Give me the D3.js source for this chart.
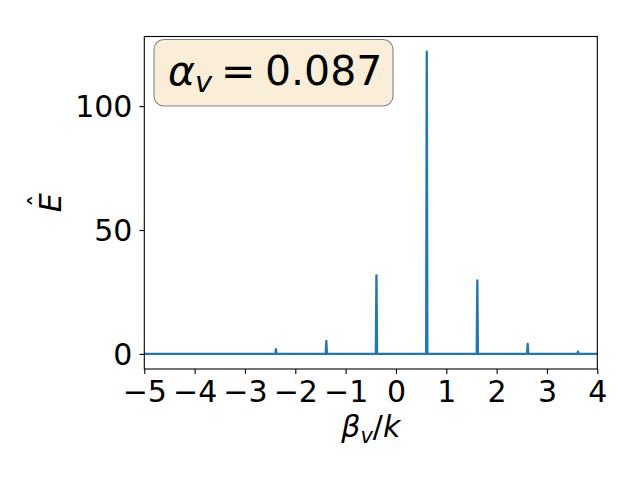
<!DOCTYPE html>
<html><head><meta charset="utf-8">
<script src="https://cdn.jsdelivr.net/npm/d3@7"></script>
<style>body{margin:0;background:#fff}svg{display:block}text{font-family:"DejaVu Sans",sans-serif;fill:#000}</style>
</head><body><div id="c"></div>
<script>
// Data
const xTicks = [-5, -4, -3, -2, -1, 0, 1, 2, 3, 4];
const yTicks = [0, 50, 100];
const seriesX = [-5.0, -2.397, -2.385, -2.373, -1.396, -1.384, -1.372, -0.400, -0.388, -0.376, 0.600, 0.612, 0.624, 1.604, 1.616, 1.628, 2.605, 2.617, 2.629, 3.605, 3.617, 3.629, 4.0];
const seriesY = [0, 0, 1.9, 0, 0, 5.2, 0, 0, 31.7, 0, 0, 122.0, 0, 0, 29.7, 0, 0, 4.0, 0, 0, 0.9, 0, 0];
const annotation = {greek: "α", sub: "v", eq: "=", value: "0.087"};

const W = 640, H = 480;
const L = 144.3, R = 597.3, T = 36.5, B = 369;
const svg = d3.select("#c").append("svg").attr("width", W).attr("height", H);
const x = d3.scaleLinear().domain([-5, 4]).range([L, R]);
const y = d3.scaleLinear().domain([-6.1, 128.1]).range([B, T]);

svg.append("clipPath").attr("id", "clip").append("rect")
  .attr("x", L).attr("y", T).attr("width", R - L).attr("height", B - T);

const pts = seriesX.map((v, i) => [v, seriesY[i]]);
svg.append("path").datum(pts)
  .attr("clip-path", "url(#clip)")
  .attr("fill", "none").attr("stroke", "#1f77b4").attr("stroke-width", 2.3)
  .attr("stroke-linejoin", "round")
  .attr("d", d3.line().x(d => x(d[0])).y(d => y(d[1])));

const fmt = d => (d < 0 ? "\u2212" + Math.abs(d) : String(d));
const xa = svg.append("g").attr("transform", `translate(0,${B})`)
  .call(d3.axisBottom(x).tickValues(xTicks).tickFormat(fmt).tickSize(4.9).tickPadding(5));
const ya = svg.append("g").attr("transform", `translate(${L},0)`)
  .call(d3.axisLeft(y).tickValues(yTicks).tickFormat(fmt).tickSize(4.9).tickPadding(7));
[xa, ya].forEach(a => {
  a.select(".domain").remove();
  a.selectAll("line").attr("stroke", "#000").attr("stroke-width", 1.1);
  a.selectAll("text").style("font-family", "DejaVu Sans").style("font-size", "30px").attr("fill", "#000");
});
xa.selectAll("text").attr("dy", "0.76em");
ya.selectAll("text").attr("dy", "0.36em");

svg.append("rect").attr("x", L).attr("y", T).attr("width", R - L).attr("height", B - T)
  .attr("fill", "none").attr("stroke", "#000").attr("stroke-width", 1.1);

// x label
const xl = svg.append("text").attr("x", (L + R) / 2).attr("y", 437).attr("text-anchor", "middle")
  .style("font-size", "30px");
xl.append("tspan").style("font-style", "italic").text("β");
xl.append("tspan").style("font-style", "italic").style("font-size", "21px").attr("dy", 6).text("v");
xl.append("tspan").attr("dy", -6).text("/");
xl.append("tspan").style("font-style", "italic").text("k");

// y label
const yl = svg.append("g").attr("transform", `translate(61,${(T + B) / 2}) rotate(-90)`);
yl.append("text").attr("text-anchor", "middle").style("font-size", "30px").style("font-style", "italic").text("E");
yl.append("text").attr("x", 2).attr("y", -12).attr("text-anchor", "middle").style("font-size", "26px").text("ˆ");

// annotation box
svg.append("rect").attr("x", 154).attr("y", 39.5).attr("width", 239).attr("height", 66.5)
  .attr("rx", 10).attr("ry", 10)
  .attr("fill", "#faeed9").attr("stroke", "#808080").attr("stroke-width", 1.1);
const at = svg.append("text").attr("x", 168).attr("y", 85).style("font-size", "41px");
at.append("tspan").style("font-style", "italic").text(annotation.greek);
at.append("tspan").style("font-style", "italic").style("font-size", "29px").attr("dy", 7).text(annotation.sub);
svg.append("text").attr("x", 221).attr("y", 85).style("font-size", "41px").text(annotation.eq);
svg.append("text").attr("x", 265).attr("y", 85).style("font-size", "41px").text(annotation.value);
</script></body></html>
